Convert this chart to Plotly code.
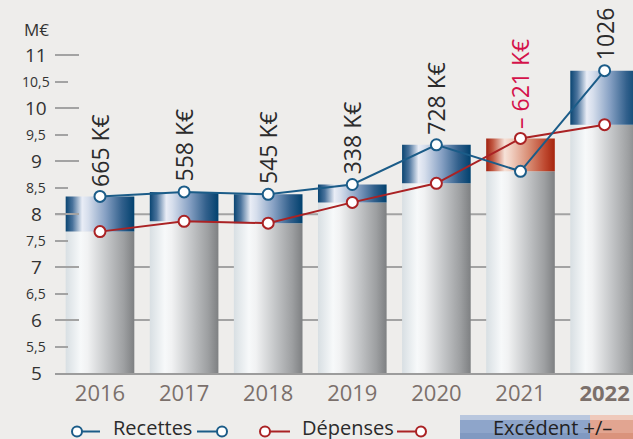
import plotly.graph_objects as go

# ---------------- data ----------------
years = ["2016", "2017", "2018", "2019", "2020", "2021", "2022"]
recettes = [8.335, 8.420, 8.375, 8.560, 9.310, 8.809, 10.710]   # M€
depenses = [7.670, 7.865, 7.830, 8.222, 8.582, 9.430, 9.690]    # M€
excedent_labels = ["665 K€", "558 K€", "545 K€", "338 K€", "728 K€", "– 621 K€", "1026 K€"]
y_major = [5, 6, 7, 8, 9, 10, 11]
y_major_text = ["5", "6", "7", "8", "9", "10", "11"]
y_minor = [5.5, 6.5, 7.5, 8.5, 9.5, 10.5]
y_minor_text = ["5,5", "6,5", "7,5", "8,5", "9,5", "10,5"]
grid_values = [6, 7, 8]

# ---------------- style ----------------
W, H = 633, 439
ML, MR, MT, MB = 55, 0, 0, 66
PW, PH = W - ML - MR, H - MT - MB
BG = "#eeedeb"
FONT = "Open Sans"
BLUE = "#1b5c88"
RED = "#aa2224"
GRID = "#a3a3a3"
X0 = -0.535
X1 = X0 + PW / 84.1
Y0, Y1 = 5, 5 + PH / 52.95
HALF = 0.408

GRAY_CS = [[0, "#d8dfe3"], [0.22, "#f7f9fa"], [0.32, "#f1f2f3"], [0.6, "#c4c6c8"],
           [0.85, "#9d9fa1"], [1, "#7e8082"]]
BLUE_CS = [[0, "#0a4572"], [0.1, "#4a739c"], [0.24, "#e9edf6"], [0.33, "#d6deec"],
           [0.58, "#86a0c3"], [0.82, "#32608c"], [1, "#01416e"]]
RED_CS = [[0, "#a1200f"], [0.1, "#c25a44"], [0.27, "#f6e2d8"], [0.36, "#f1d0c2"],
          [0.62, "#d88d74"], [0.85, "#bf4a31"], [1, "#a6250e"]]


def px2x(px):
    return (px - ML) / PW


def py2y(py):
    return (H - MB - py) / PH


fig = go.Figure()


def bar(i, lo, hi, cs):
    xs = [i - HALF, i + HALF, i + HALF, i - HALF, i - HALF]
    ys = [lo, lo, hi, hi, lo]
    fig.add_trace(go.Scatter(
        x=xs, y=ys, mode="lines", fill="toself", line=dict(width=0),
        fillgradient=dict(type="horizontal", colorscale=cs),
        hoverinfo="skip", showlegend=False))


for i in range(len(years)):
    lo = min(recettes[i], depenses[i])
    hi = max(recettes[i], depenses[i])
    bar(i, Y0, lo, GRAY_CS)
    bar(i, lo, hi, BLUE_CS if recettes[i] >= depenses[i] else RED_CS)

xi = list(range(len(years)))
fig.add_trace(go.Scatter(
    x=xi, y=depenses, mode="lines+markers", name="Dépenses",
    line=dict(color=RED, width=2),
    marker=dict(symbol="circle", size=11, color="white", line=dict(color=RED, width=2)),
    showlegend=False))
fig.add_trace(go.Scatter(
    x=xi, y=recettes, mode="lines+markers", name="Recettes",
    line=dict(color=BLUE, width=2),
    marker=dict(symbol="circle", size=11, color="white", line=dict(color=BLUE, width=2)),
    showlegend=False))

annotations = []
# excedent labels
for i, lab in enumerate(excedent_labels):
    neg = recettes[i] < depenses[i]
    annotations.append(dict(
        x=i, y=max(recettes[i], depenses[i]), xref="x", yref="y",
        text=lab, textangle=-90, showarrow=False, xanchor="center", yanchor="bottom",
        yshift=8, font=dict(family=FONT, size=23, color="#d4124a" if neg else "#2b2b2b")))
# y tick labels (centred)
for v, t in zip(y_major, y_major_text):
    annotations.append(dict(x=px2x(36), y=v, xref="paper", yref="y", text=t, showarrow=False,
                            xanchor="center", yanchor="middle",
                            font=dict(family=FONT, size=19, color="#333333")))
for v, t in zip(y_minor, y_minor_text):
    annotations.append(dict(x=px2x(36), y=v, xref="paper", yref="y", text=t, showarrow=False,
                            xanchor="center", yanchor="middle",
                            font=dict(family=FONT, size=14, color="#333333")))
annotations.append(dict(x=px2x(36), y=py2y(29), xref="paper", yref="paper", text="M€",
                        showarrow=False, xanchor="center", yanchor="middle",
                        font=dict(family=FONT, size=17, color="#333333")))

shapes = []
for g in grid_values:
    shapes.append(dict(type="line", xref="paper", yref="y", x0=0, x1=1, y0=g, y1=g,
                       line=dict(color=GRID, width=2), layer="below"))

# custom legend
LY = 431.5
TY = 427.5


def leg_marker(cx, color):
    shapes.append(dict(type="circle", xref="paper", yref="paper",
                       x0=px2x(cx - 5), x1=px2x(cx + 5), y0=py2y(LY + 5), y1=py2y(LY - 5),
                       line=dict(color=color, width=2), fillcolor="white"))


def leg_line(a, b, color):
    shapes.append(dict(type="line", xref="paper", yref="paper",
                       x0=px2x(a), x1=px2x(b), y0=py2y(LY), y1=py2y(LY),
                       line=dict(color=color, width=2)))


leg_line(82, 100, BLUE); leg_marker(77, BLUE)
leg_line(197, 217, BLUE); leg_marker(222, BLUE)
leg_line(270, 290, RED); leg_marker(265, RED)
leg_line(397, 416, RED); leg_marker(421, RED)

# Excédent box
shapes += [
    dict(type="rect", xref="paper", yref="paper", x0=px2x(460), x1=px2x(590),
         y0=py2y(440), y1=py2y(415), line=dict(width=0), fillcolor="#8ea5ca"),
    dict(type="rect", xref="paper", yref="paper", x0=px2x(460), x1=px2x(590),
         y0=py2y(420), y1=py2y(415), line=dict(width=0), fillcolor="#b9c7de"),
    dict(type="rect", xref="paper", yref="paper", x0=px2x(460), x1=px2x(590),
         y0=py2y(440), y1=py2y(433), line=dict(width=0), fillcolor="#8099c1"),
    dict(type="rect", xref="paper", yref="paper", x0=px2x(590), x1=px2x(634),
         y0=py2y(440), y1=py2y(415), line=dict(width=0), fillcolor="#e2a591"),
    dict(type="rect", xref="paper", yref="paper", x0=px2x(590), x1=px2x(634),
         y0=py2y(420), y1=py2y(415), line=dict(width=0), fillcolor="#efc9bb"),
    dict(type="rect", xref="paper", yref="paper", x0=px2x(590), x1=px2x(634),
         y0=py2y(440), y1=py2y(433), line=dict(width=0), fillcolor="#da937c"),
]

annotations += [
    dict(x=px2x(111), y=py2y(TY), xref="paper", yref="paper", text="Recettes", showarrow=False,
         xanchor="left", yanchor="middle", font=dict(family=FONT, size=20, color="#2b2b2b")),
    dict(x=px2x(300), y=py2y(TY), xref="paper", yref="paper", text="Dépenses", showarrow=False,
         xanchor="left", yanchor="middle", font=dict(family=FONT, size=20, color="#2b2b2b")),
    dict(x=px2x(552), y=py2y(TY), xref="paper", yref="paper", text="Excédent +/–",
         showarrow=False, xanchor="center", yanchor="middle",
         font=dict(family=FONT, size=20, color="#222222")),
]

ticktext = [y if y != "2022" else "<b>2022</b>" for y in years]

fig.update_layout(
    width=W, height=H,
    margin=dict(l=ML, r=MR, t=MT, b=MB, pad=0),
    paper_bgcolor=BG, plot_bgcolor=BG,
    showlegend=False,
    font=dict(family=FONT),
    xaxis=dict(range=[X0, X1], tickmode="array", tickvals=xi, ticktext=ticktext,
               ticks="", showgrid=False, zeroline=False,
               showline=True, linecolor="#9c9c9c", linewidth=2,
               tickfont=dict(family=FONT, size=22, color="#7b706b")),
    yaxis=dict(range=[Y0, Y1], tickmode="array", tickvals=y_major, showticklabels=False,
               ticks="inside", ticklen=24, tickwidth=2, tickcolor=GRID,
               showgrid=False, zeroline=False, showline=False,
               minor=dict(tickmode="array", tickvals=y_minor, ticks="inside", ticklen=13,
                          tickwidth=2, tickcolor=GRID, showgrid=False)),
    shapes=shapes,
    annotations=annotations,
)

fig.write_html(
    "out.html",
    config={"displayModeBar": False},
    post_script="document.body.style.margin='0';document.body.style.overflow='hidden';"
                "document.documentElement.style.background='" + BG + "';",
)
